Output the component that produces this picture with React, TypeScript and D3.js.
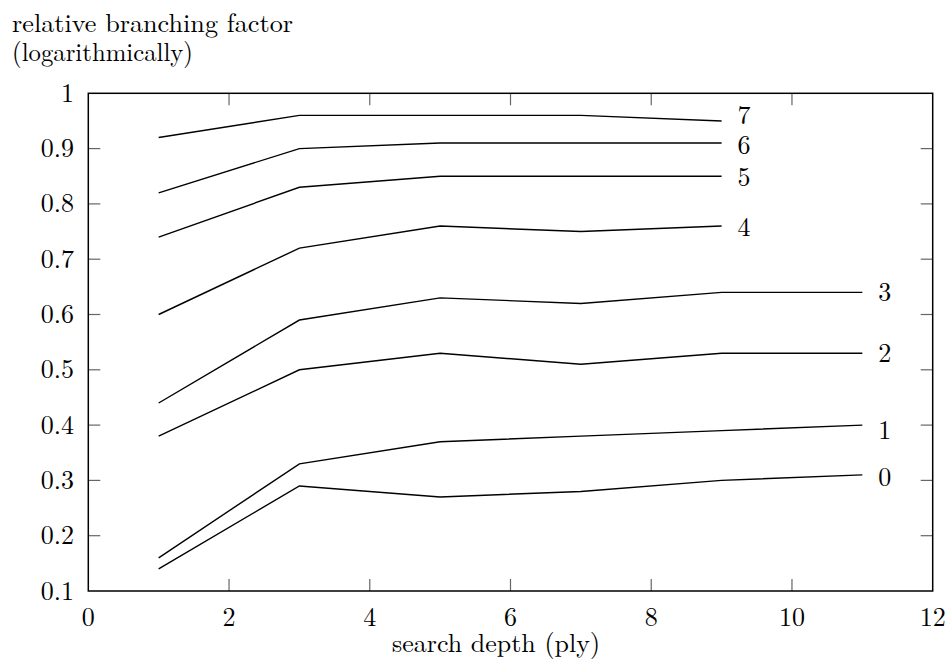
import React from "react";
import * as d3 from "d3";

const depthsShort = [1, 3, 5, 7, 9];
const depthsLong = [1, 3, 5, 7, 9, 11];
const s7 = [0.92, 0.96, 0.96, 0.96, 0.95];
const s6 = [0.82, 0.9, 0.91, 0.91, 0.91];
const s5 = [0.74, 0.83, 0.85, 0.85, 0.85];
const s4 = [0.6, 0.72, 0.76, 0.75, 0.76];
const s3 = [0.44, 0.59, 0.63, 0.62, 0.64, 0.64];
const s2 = [0.38, 0.5, 0.53, 0.51, 0.53, 0.53];
const s1 = [0.16, 0.33, 0.37, 0.38, 0.39, 0.4];
const s0 = [0.14, 0.29, 0.27, 0.28, 0.3, 0.31];
const seriesLabels = ["7", "6", "5", "4", "3", "2", "1", "0"];
const xTicks = [0, 2, 4, 6, 8, 10, 12];
const yTicks = [0.1, 0.2, 0.3, 0.4, 0.5, 0.6, 0.7, 0.8, 0.9, 1];

const series = [
  { label: seriesLabels[0], xs: depthsShort, ys: s7 },
  { label: seriesLabels[1], xs: depthsShort, ys: s6 },
  { label: seriesLabels[2], xs: depthsShort, ys: s5 },
  { label: seriesLabels[3], xs: depthsShort, ys: s4 },
  { label: seriesLabels[4], xs: depthsLong, ys: s3 },
  { label: seriesLabels[5], xs: depthsLong, ys: s2 },
  { label: seriesLabels[6], xs: depthsLong, ys: s1 },
  { label: seriesLabels[7], xs: depthsLong, ys: s0 },
];

// label vertical nudges (pixels) to keep labels apart, as in the original
const labelNudge: Record<string, number> = { "7": -5, "6": 2, "5": 1, "4": 1, "1": 5, "0": 3 };

export default function App() {
  const W = 949, H = 664;
  const L = 88.3, R = 932.7, T = 93.3, B = 591;
  const x = d3.scaleLinear().domain([0, 12]).range([L, R]);
  const y = d3.scaleLinear().domain([0.1, 1]).range([B, T]);
  const line = d3.line<[number, number]>().x(d => x(d[0])).y(d => y(d[1]));
  const font = "'Latin Modern Roman','CMU Serif','Liberation Serif','DejaVu Serif',serif";
  const fs = 26;
  const tickLen = 12;
  return (
    <svg width={W} height={H} style={{ position: "absolute", left: 0, top: 0, background: "#fff" }} fontFamily={font}>
      <text x={12} y={32} fontSize={fs} textLength={281} lengthAdjust="spacingAndGlyphs">relative branching factor</text>
      <text x={12} y={61} fontSize={fs} textLength={181} lengthAdjust="spacingAndGlyphs">(logarithmically)</text>
      {yTicks.map(t => (
        <g key={"y" + t}>
          {t > 0.1 && t < 1 && <line x1={L} x2={L + tickLen} y1={y(t)} y2={y(t)} stroke="#666" strokeWidth={1.2} />}
          {t > 0.1 && t < 1 && <line x1={R} x2={R - tickLen} y1={y(t)} y2={y(t)} stroke="#666" strokeWidth={1.2} />}
          <text x={74} y={y(t) + 8.5} fontSize={fs} textAnchor="end">{String(+t.toFixed(1))}</text>
        </g>
      ))}
      {xTicks.map(t => (
        <g key={"x" + t}>
          {t > 0 && t < 12 && <line x1={x(t)} x2={x(t)} y1={B} y2={B - tickLen} stroke="#666" strokeWidth={1.2} />}
          {t > 0 && t < 12 && <line x1={x(t)} x2={x(t)} y1={T} y2={T + tickLen} stroke="#666" strokeWidth={1.2} />}
          <text x={x(t)} y={626} fontSize={fs} textAnchor="middle">{t}</text>
        </g>
      ))}
      <rect x={L} y={T} width={R - L} height={B - T} fill="none" stroke="#000" strokeWidth={1.5} />
      {series.map(s => {
        const pts: [number, number][] = s.xs.map((v, i) => [v, s.ys[i]]);
        const last = pts[pts.length - 1];
        return (
          <g key={s.label}>
            <path d={line(pts) || ""} fill="none" stroke="#000" strokeWidth={1.4} />
            <text x={x(last[0]) + 16} y={y(last[1]) + 8.5 + (labelNudge[s.label] || 0)} fontSize={fs}>{s.label}</text>
          </g>
        );
      })}
      <text x={496} y={652} fontSize={fs} textAnchor="middle" textLength={208} lengthAdjust="spacingAndGlyphs">search depth (ply)</text>
    </svg>
  );
}
